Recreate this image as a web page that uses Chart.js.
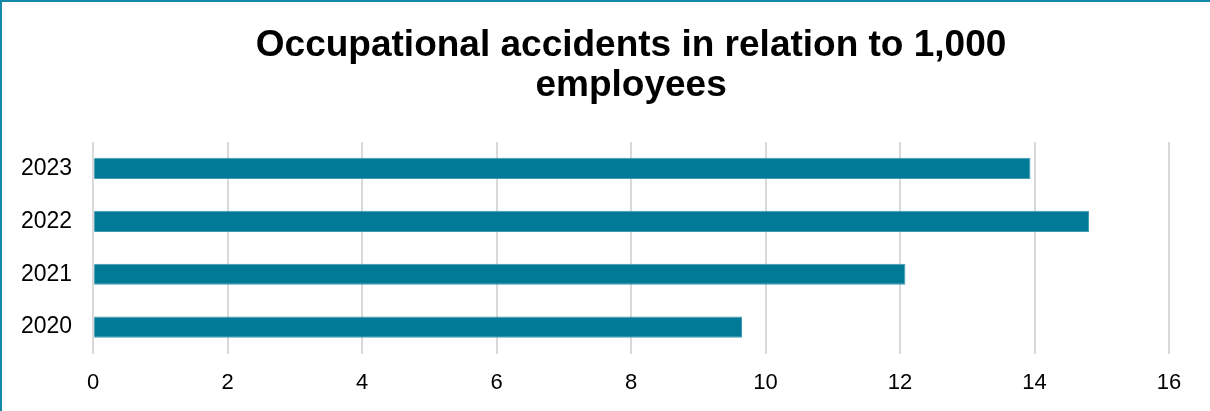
<!DOCTYPE html>
<html>
<head>
<meta charset="utf-8">
<script src="https://cdn.jsdelivr.net/npm/chart.js@4.4.0/dist/chart.umd.min.js"></script>
<style>
  html, body { margin: 0; padding: 0; background: #fff; }
  #wrap {
    width: 1210px; height: 411px; box-sizing: border-box;
    border-top: 2px solid #1589a6; border-left: 2px solid #1589a6;
    position: relative;
  }
</style>
</head>
<body>
<div id="wrap"><canvas id="chart"></canvas></div>
<script>
// values
let years = ['2023', '2022', '2021', '2020'];
let accidents = [13.94, 14.81, 12.08, 9.65];
let chartTitle = ['Occupational accidents in relation to 1,000', 'employees'];

let barColor = '#007A96';
let barEdge = '#3f9cb2';

let config = {
    type: 'bar',
    data: {
        labels: years,
        datasets: [{
            label: 'Occupational accidents',
            data: accidents,
            backgroundColor: barColor,
            borderColor: barEdge,
            borderWidth: 1,
            barPercentage: 0.4,
            categoryPercentage: 1
        }]
    },
    options: {
        indexAxis: 'y',
        responsive: true,
        maintainAspectRatio: false,
        animation: false,
        layout: {
            padding: { left: -2, right: 41, top: 24, bottom: -1 }
        },
        plugins: {
            legend: { display: false },
            tooltip: { enabled: false },
            title: {
                display: true,
                text: chartTitle,
                fullSize: false,
                color: '#000',
                font: { family: 'Liberation Sans, Arial, sans-serif', size: 37, weight: 'bold', lineHeight: 1.08 },
                padding: { top: 0, bottom: 36 }
            }
        },
        scales: {
            x: {
                min: 0,
                max: 16,
                ticks: {
                    stepSize: 2,
                    color: '#000',
                    padding: 16,
                    font: { family: 'Liberation Sans, Arial, sans-serif', size: 22 }
                },
                grid: { color: '#d9d9d9', lineWidth: 2, drawTicks: false },
                border: { display: false }
            },
            y: {
                ticks: {
                    color: '#000',
                    padding: 21,
                    font: { family: 'Liberation Sans, Arial, sans-serif', size: 23 }
                },
                grid: { display: false, drawTicks: false },
                border: { display: false }
            }
        }
    }
};

let chart = new Chart(document.getElementById('chart'), config);
</script>
</body>
</html>
